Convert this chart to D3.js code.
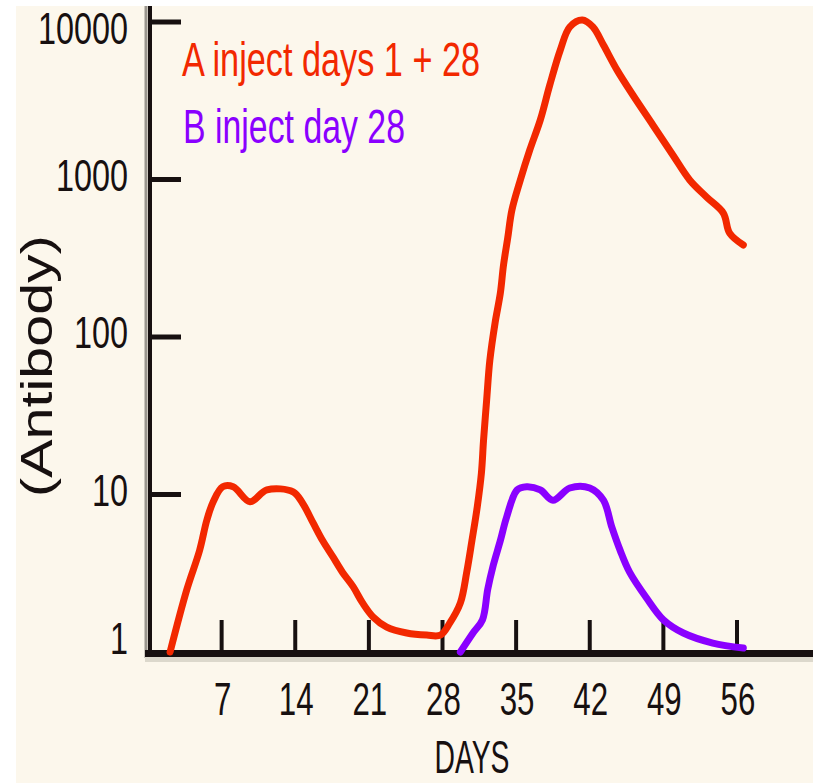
<!DOCTYPE html>
<html>
<head>
<meta charset="utf-8">
<script src="https://cdn.jsdelivr.net/npm/d3@7"></script>
<style>
  html, body { margin: 0; padding: 0; background: #ffffff; }
  svg { display: block; }
  text { font-family: "Liberation Sans", Arial, sans-serif; }
</style>
</head>
<body>
<svg id="chart" width="813" height="783"></svg>
<script>
// ---- data ----
const daysA   = [2.1, 3.7, 4.9, 5.6, 6.2, 7.1, 8.1, 9.7, 11.3, 13.8, 14.7, 15.7, 16.6, 17.6, 18.5, 19.5, 20.4, 21.4, 22.7, 24.6, 26.5, 27.8, 28.7, 29.7, 30.3, 30.8, 31.3, 31.7, 31.9, 32.2, 32.5, 33.0, 33.5, 33.8, 34.2, 34.6, 35.4, 36.3, 37.3, 38.2, 39.2, 40.1, 41.3, 42.3, 43.3, 44.6, 46.1, 48.0, 49.9, 51.5, 53.1, 54.7, 55.3, 56.6];
const valuesA = [1.0, 2.5, 4.4, 6.9, 9.0, 11.2, 11.2, 9.0, 10.7, 10.4, 8.8, 6.6, 5.1, 4.0, 3.2, 2.6, 2.05, 1.67, 1.44, 1.32, 1.28, 1.28, 1.53, 2.05, 3.2, 5.1, 8.3, 13.7, 22, 40, 71, 123, 190, 286, 425, 640, 993, 1540, 2390, 3980, 6640, 9300, 10300, 9300, 7140, 4950, 3440, 2220, 1430, 993, 774, 612, 457, 384];
const daysB   = [29.7, 30.9, 31.8, 32.3, 32.8, 33.5, 34.1, 35.1, 36.0, 37.3, 38.5, 40.1, 42.0, 43.3, 44.1, 44.9, 45.8, 47.4, 49.0, 50.9, 53.7, 56.6];
const valuesB = [1.0, 1.32, 1.6, 2.5, 3.5, 5.1, 7.2, 10.7, 11.2, 10.7, 9.2, 11.0, 11.0, 9.2, 6.2, 4.4, 3.2, 2.2, 1.6, 1.32, 1.14, 1.06];
const xTicks = [7, 14, 21, 28, 35, 42, 49, 56];
const yTicks = [1, 10, 100, 1000, 10000];
const yTickLabels = ["1", "10", "100", "1000", "10000"];
const legendLabels = ["A inject days 1 + 28", "B inject day 28"];
const xTitle = "DAYS";
const yTitle = "(Antibody)";

// ---- styles ----
const RED = "#f22800";
const PURPLE = "#8a00ff";
const INK = "#171010";

const svg = d3.select("#chart");
// cream plate
svg.append("rect").attr("x", 16).attr("y", 6).attr("width", 813 - 16).attr("height", 783 - 6).attr("fill", "#fcf7ec");

const x = d3.scaleLinear().domain([0, 56]).range([148, 737]);
const y = d3.scaleLog().domain([1, 10000]).range([652, 22]);

// axes
svg.append("line").attr("x1", 146).attr("x2", 146).attr("y1", 6).attr("y2", 658)
  .attr("stroke", "#9a968e").attr("stroke-width", 3);
svg.append("line").attr("x1", 150).attr("x2", 150).attr("y1", 6).attr("y2", 657)
  .attr("stroke", INK).attr("stroke-width", 4);
svg.append("line").attr("x1", 145).attr("x2", 813).attr("y1", 659.5).attr("y2", 659.5)
  .attr("stroke", "#dcd8cc").attr("stroke-width", 5);
svg.append("line").attr("x1", 145).attr("x2", 813).attr("y1", 653.5).attr("y2", 653.5)
  .attr("stroke", INK).attr("stroke-width", 7);

// y ticks (horizontal marks to the right of the axis)
svg.append("g").selectAll("line").data(yTicks.filter(v => v > 1)).join("line")
  .attr("x1", 150).attr("x2", 181)
  .attr("y1", d => y(d)).attr("y2", d => y(d))
  .attr("stroke", INK).attr("stroke-width", 5);

// x ticks (vertical marks above the axis)
svg.append("g").selectAll("line").data(xTicks).join("line")
  .attr("x1", d => x(d)).attr("x2", d => x(d))
  .attr("y1", 620).attr("y2", 652)
  .attr("stroke", INK).attr("stroke-width", 4);

// y tick labels (kept inside the plate at the ends)
const labelBase = d => Math.min(Math.max(y(d) + 11, 44), 654);
svg.append("g").selectAll("text").data(yTicks).join("text")
  .attr("transform", d => `translate(128,${labelBase(d)}) scale(0.72,1)`)
  .attr("text-anchor", "end")
  .attr("font-size", 45)
  .attr("fill", INK)
  .text((d, i) => yTickLabels[i]);

// x tick labels
svg.append("g").selectAll("text").data(xTicks).join("text")
  .attr("transform", d => `translate(${x(d) + 1},715) scale(0.68,1)`)
  .attr("text-anchor", "middle")
  .attr("font-size", 46)
  .attr("fill", INK)
  .text(d => d);

// axis titles
svg.append("text")
  .attr("x", 472).attr("y", 773)
  .attr("text-anchor", "middle")
  .attr("font-size", 47)
  .attr("textLength", 75).attr("lengthAdjust", "spacingAndGlyphs")
  .attr("fill", INK)
  .text(xTitle);

svg.append("text")
  .attr("transform", "translate(52,366) rotate(-90)")
  .attr("text-anchor", "middle")
  .attr("font-size", 45)
  .attr("textLength", 262).attr("lengthAdjust", "spacingAndGlyphs")
  .attr("fill", INK)
  .text(yTitle);

// legend text
svg.append("text")
  .attr("x", 182).attr("y", 76)
  .attr("font-size", 49)
  .attr("textLength", 298).attr("lengthAdjust", "spacingAndGlyphs")
  .attr("fill", RED)
  .text(legendLabels[0]);
svg.append("text")
  .attr("x", 183).attr("y", 143)
  .attr("font-size", 49)
  .attr("textLength", 222).attr("lengthAdjust", "spacingAndGlyphs")
  .attr("fill", PURPLE)
  .text(legendLabels[1]);

// curves
const line = d3.line()
  .x(d => x(d[0]))
  .y(d => y(d[1]))
  .curve(d3.curveCatmullRom.alpha(0.5));

svg.append("path")
  .datum(daysB.map((d, i) => [d, valuesB[i]]))
  .attr("d", line)
  .attr("fill", "none")
  .attr("stroke", PURPLE)
  .attr("stroke-width", 7)
  .attr("stroke-linejoin", "round")
  .attr("stroke-linecap", "round");

svg.append("path")
  .datum(daysA.map((d, i) => [d, valuesA[i]]))
  .attr("d", line)
  .attr("fill", "none")
  .attr("stroke", RED)
  .attr("stroke-width", 7)
  .attr("stroke-linejoin", "round")
  .attr("stroke-linecap", "round");
</script>
</body>
</html>
